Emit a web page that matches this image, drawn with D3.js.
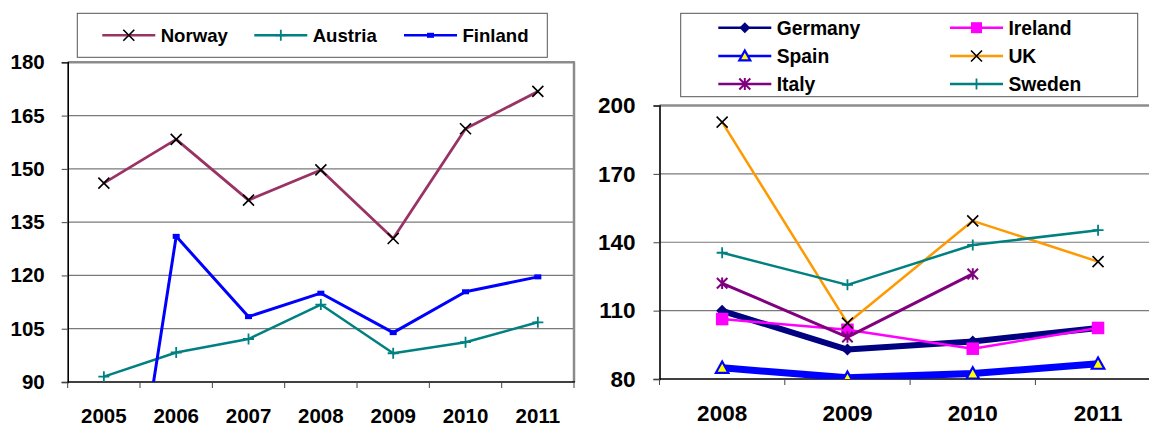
<!DOCTYPE html>
<html><head><meta charset="utf-8">
<script src="https://cdn.jsdelivr.net/npm/d3@7/dist/d3.min.js"></script>
<style>
html,body{margin:0;padding:0;background:#fff;}
svg{display:block;font-family:"Liberation Sans",Arial,sans-serif;font-weight:bold;}
</style></head><body>
<svg id="c" width="1149" height="426"></svg>
<script>
// ---- Left chart data ----
const leftYears = ["2005","2006","2007","2008","2009","2010","2011"];
const leftTicks = [90,105,120,135,150,165,180];
const norway  = [146, 158.3, 141.2, 149.7, 130.4, 161.3, 171.8];
const austria = [91.5, 98.3, 102.1, 111.8, 98.1, 101.2, 106.8];
const finland = [0, 131, 108.4, 115, 103.9, 115.4, 119.6];

// ---- Right chart data ----
const rightYears = ["2008","2009","2010","2011"];
const rightTicks = [80,110,140,170,200];
const germany = [109.9, 92.9, 96.5, 102.4];
const ireland = [106.3, 101.6, 93.3, 102.4];
const spain   = [84.9, 80.5, 82.4, 86.7];
const uk      = [192.7, 104.5, 149.4, 131.5];
const italy   = [122, 98.4, 126.1, null];
const sweden  = [135.4, 121.3, 138.8, 145.3];

const svg = d3.select("#c");

function marker(g, type, x, y, color, size){
  const s = size/2;
  if(type==="x"){
    g.append("path").attr("d",`M${x-s},${y-s}L${x+s},${y+s}M${x-s},${y+s}L${x+s},${y-s}`)
      .attr("stroke","#000").attr("stroke-width",1.6).attr("fill","none");
  } else if(type==="plus"){
    g.append("path").attr("d",`M${x-s},${y}L${x+s},${y}M${x},${y-s}L${x},${y+s}`)
      .attr("stroke",color).attr("stroke-width",1.8).attr("fill","none");
  } else if(type==="dash"){
    g.append("rect").attr("x",x-3.5).attr("y",y-2.5).attr("width",7).attr("height",5).attr("fill",color);
  } else if(type==="diamond"){
    g.append("path").attr("d",`M${x},${y-s}L${x+s},${y}L${x},${y+s}L${x-s},${y}Z`).attr("fill",color);
  } else if(type==="square"){
    g.append("rect").attr("x",x-s).attr("y",y-s).attr("width",size).attr("height",size).attr("fill",color);
  } else if(type==="triangle"){
    g.append("path").attr("d",`M${x},${y-s}L${x+s},${y+s*0.8}L${x-s},${y+s*0.8}Z`)
      .attr("fill","#FFFF00").attr("stroke",color).attr("stroke-width",2.2);
  } else if(type==="star"){
    g.append("path").attr("d",`M${x-s},${y-s}L${x+s},${y+s}M${x-s},${y+s}L${x+s},${y-s}M${x},${y-s*1.1}L${x},${y+s*1.1}`)
      .attr("stroke",color).attr("stroke-width",2).attr("fill","none");
  }
}

function chart(opt){
  const {x0,y0,y1,cats,ticks,series,fontSize,clipId,drawRight} = opt;
  const g = svg.append("g");
  const x = d3.scaleBand().domain(cats).range([x0, x0 + cats.length*opt.band]).padding(0);
  const y = d3.scaleLinear().domain([ticks[0], ticks[ticks.length-1]]).range([y1, y0]);
  const cx = c => x(c) + x.bandwidth()/2;
  const right = Math.min(x0 + cats.length*opt.band, 1160);

  // gridlines
  g.selectAll(".grid").data(ticks.slice(1, -1)).join("line")
    .attr("x1",x0).attr("x2",right).attr("y1",d=>y(d)).attr("y2",d=>y(d))
    .attr("stroke","#7a7a7a").attr("stroke-width",1.2);
  // plot border top/right
  g.append("line").attr("x1",x0).attr("x2",right+1).attr("y1",y0).attr("y2",y0)
    .attr("stroke","#8c8c8c").attr("stroke-width",2.5);
  if(drawRight) g.append("line").attr("x1",right).attr("x2",right).attr("y1",y0).attr("y2",y1)
    .attr("stroke","#8c8c8c").attr("stroke-width",2.5);

  // y axis
  const ya = d3.axisLeft(y).tickValues(ticks).tickSize(6).tickPadding(opt.yPad).tickFormat(d3.format("d"));
  const yg = g.append("g").attr("transform",`translate(${x0},0)`).call(ya);
  yg.select(".domain").attr("stroke","#000").attr("stroke-width",1.6);
  yg.selectAll(".tick line").attr("stroke","#444").attr("stroke-width",1);
  yg.selectAll("text").attr("font-size",fontSize).attr("font-weight","bold").attr("fill","#000")
    .attr("font-family","Liberation Sans, Arial, sans-serif");

  // x axis
  const xa = d3.axisBottom(x).tickSize(0).tickPadding(opt.xPad);
  const xg = g.append("g").attr("transform",`translate(0,${y1})`).call(xa);
  xg.select(".domain").remove();
  xg.selectAll("text").attr("font-size",fontSize).attr("font-weight","bold").attr("fill","#000")
    .attr("font-family","Liberation Sans, Arial, sans-serif");
  g.append("line").attr("x1",x0).attr("x2",right+1).attr("y1",y1).attr("y2",y1)
    .attr("stroke","#000").attr("stroke-width",1.6);
  const bounds = cats.map(c=>x(c)).concat([x0 + cats.length*opt.band]);
  g.selectAll(".bt").data(bounds).join("line")
    .attr("x1",d=>d).attr("x2",d=>d).attr("y1",y1).attr("y2",y1+6)
    .attr("stroke","#444").attr("stroke-width",1);

  // clip
  svg.append("clipPath").attr("id",clipId).append("rect")
    .attr("x",x0).attr("y",y0-12).attr("width",right-x0).attr("height",y1-y0+12);
  const lg = g.append("g").attr("clip-path",`url(#${clipId})`);
  series.forEach(s=>{
    const line = d3.line().defined(d=>d!=null).x((d,i)=>cx(cats[i])).y(d=>y(d));
    lg.append("path").datum(s.values).attr("d",line).attr("fill","none")
      .attr("stroke",s.color).attr("stroke-width",s.width).attr("stroke-linejoin","round");
    s.values.forEach((v,i)=>{
      if(v==null || v < ticks[0]) return;
      marker(lg, s.marker, cx(cats[i]), y(v), s.color, s.msize);
    });
  });
}

// Left chart
chart({x0:67.7, y0:62.3, y1:382, band:72.33, cats:leftYears, ticks:leftTicks,
  fontSize:"20.5px", yPad:17, xPad:26, clipId:"clipL", drawRight:true,
  series:[
    {name:"Norway", values:norway, color:"#993366", width:2.8, marker:"x", msize:11},
    {name:"Austria", values:austria, color:"#008080", width:2.5, marker:"plus", msize:11},
    {name:"Finland", values:finland, color:"#0000FF", width:3, marker:"dash", msize:6}
  ]});

// Right chart
chart({x0:659.5, y0:105.5, y1:379, band:125.3, cats:rightYears, ticks:rightTicks,
  fontSize:"22.5px", yPad:18, xPad:26, clipId:"clipR", drawRight:false,
  series:[
    {name:"Germany", values:germany, color:"#000080", width:6, marker:"diamond", msize:12},
    {name:"Ireland", values:ireland, color:"#FF00FF", width:2.5, marker:"square", msize:12.5},
    {name:"Spain", values:spain, color:"#0000FF", width:7, marker:"triangle", msize:12.5},
    {name:"UK", values:uk, color:"#FF9900", width:2.5, marker:"x", msize:11},
    {name:"Italy", values:italy, color:"#800080", width:3, marker:"star", msize:10.5},
    {name:"Sweden", values:sweden, color:"#008080", width:2.5, marker:"plus", msize:11}
  ]});

// Legends
function legendItem(g, x, y, name, color, mk, msize, tx, fs){
  g.append("line").attr("x1",x).attr("x2",x+53).attr("y1",y).attr("y2",y)
    .attr("stroke",color).attr("stroke-width",2.6);
  marker(g, mk, x+26.5, y, color, msize);
  g.append("text").attr("x",tx).attr("y",y).attr("dy","0.36em").attr("font-size",fs)
    .attr("font-weight","bold").text(name);
}
const L = svg.append("g");
L.append("rect").attr("x",77.3).attr("y",13.3).attr("width",470).attr("height",44)
  .attr("fill","#fff").attr("stroke","#555").attr("stroke-width",1);
const leftNames = ["Norway","Austria","Finland"];
const leftColors = ["#993366","#008080","#0000FF"];
const leftMarks = ["x","plus","dash"];
const leftLX = [102.3, 254.3, 404];
leftNames.forEach((n,i)=>legendItem(L, leftLX[i], 35.3, n, leftColors[i], leftMarks[i], i==2?6:11, leftLX[i]+58.4, "18.6px"));

const R = svg.append("g");
R.append("rect").attr("x",680.7).attr("y",13.3).attr("width",457).attr("height",83.4)
  .attr("fill","#fff").attr("stroke","#555").attr("stroke-width",1);
const rightNames = ["Germany","Ireland","Spain","UK","Italy","Sweden"];
const rightColors = ["#000080","#FF00FF","#0000FF","#FF9900","#800080","#008080"];
const rightMarks = ["diamond","square","triangle","x","star","plus"];
const rowY = [27.7, 56, 84];
rightNames.forEach((n,i)=>{
  const col = i%2, row = Math.floor(i/2);
  const lx = col===0 ? 718.3 : 950;
  legendItem(R, lx, rowY[row], n, rightColors[i], rightMarks[i], 11, lx+58.4, "19.3px");
});
</script>
</body></html>
